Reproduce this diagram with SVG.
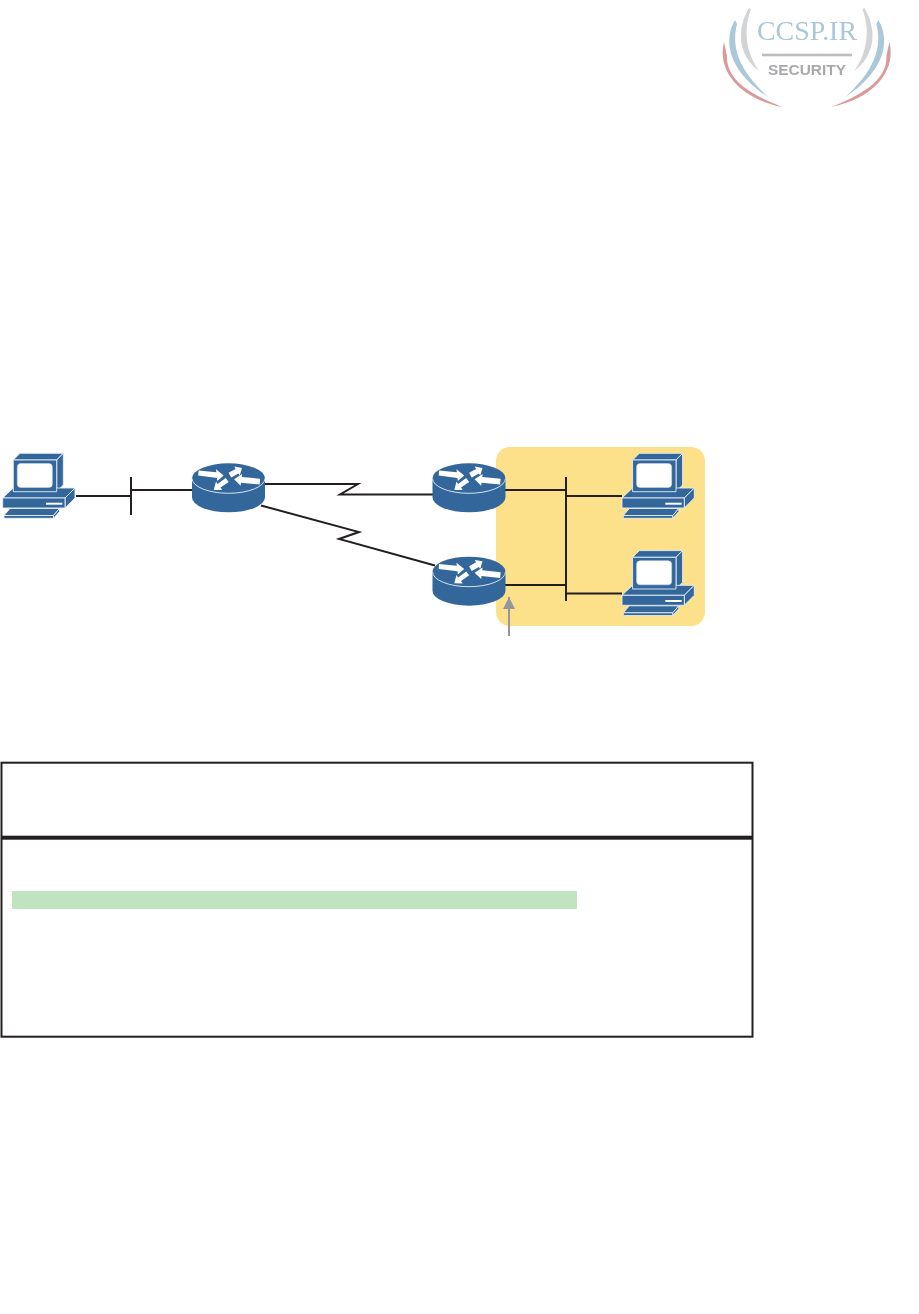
<svg xmlns="http://www.w3.org/2000/svg" xmlns:xlink="http://www.w3.org/1999/xlink" width="919" height="1314" viewBox="0 0 919 1314">
<style>
.dev{fill:#33679c;stroke:#e6eef5;stroke-width:.9;stroke-linejoin:round}
.wh{fill:#fff;stroke:none}
.scr{fill:#fff;stroke:#c9d9e8;stroke-width:.6}
.ln{fill:none;stroke:#231f20;stroke-width:2}
.hd{fill:none;stroke:#231f20;stroke-width:2}
</style>
<defs>
<filter id="soft" x="-5%" y="-5%" width="110%" height="110%"><feGaussianBlur stdDeviation=".5"/></filter>
<marker id="ah" markerUnits="userSpaceOnUse" markerWidth="13" markerHeight="13" refX="12" refY="6" orient="auto"><path d="M0,0 L12,6 L0,12 Z" fill="#949698"/></marker>
<g id="pc">
<path class="dev" d="M13.3,20 L20,13.3 L63.3,13.3 L56.7,20 Z"/>
<path class="dev" d="M56.7,20 L63.3,13.3 L63.3,45 L56.7,51.7 Z"/>
<path class="dev" d="M2.7,58 L13.3,48 L75,48 L65,58 Z"/>
<path class="dev" d="M65,58 L75,48 L75,58 L65,68 Z"/>
<rect class="dev" x="2.7" y="58" width="62.3" height="10"/>
<rect class="dev" x="13.3" y="20" width="43.4" height="31.7"/>
<rect class="scr" x="17.3" y="23.5" width="35" height="24" rx="3.5"/>
<rect class="wh" x="46" y="62.7" width="16.3" height="2"/>
<path class="dev" d="M4,75.5 L10,68.5 L59.5,68.5 L53.5,75.5 Z"/>
<path class="dev" d="M4,75.5 L53.5,75.5 L53.5,78.3 L4,78.3 Z"/>
<path class="dev" d="M53.5,78.3 L53.5,75.5 L59.5,68.5 L59.5,71.5 Z"/>
</g>
<g id="rt">
<path d="M0,15 V34 A36.5,15 0 0 0 73,34 V15 Z" fill="#33679c"/>
<ellipse cx="36.5" cy="15" rx="36.5" ry="15" fill="#33679c"/>
<path d="M0,15 A36.5,15 0 0 0 73,15" fill="none" stroke="#e6eef5" stroke-width=".9"/>
<polygon class="wh" points="6.6,7.2 24.3,9 24,6 31.7,12.3 25.3,17.8 25,14.6 6.2,12.3"/>
<polygon class="wh" points="36.6,9.5 43.6,5.6 42.3,3.2 50,4.6 47.7,12.2 46.5,10.2 39.2,14.2"/>
<polygon class="wh" points="33.7,14.8 25.6,20.8 24,18.3 21.8,26.6 30.2,26.8 28.5,24.3 36.7,18.6"/>
<polygon class="wh" points="68.2,15.5 49.8,13.6 50.1,10.8 42.1,16 48.7,22.4 49,19.4 67.6,21.2"/>
</g>
</defs>
<rect width="919" height="1314" fill="#fff"/>
<g id="logo" filter="url(#soft)">
<g id="logo-arcs-left">
<path d="M749,8 C736,30 738,55 759,71 C746,52 743,30 751,9 Z" fill="#d3d4d5"/>
<path d="M735,20 C722,42 730,72 768,97 C748,78 729,55 737,24 Z" fill="#a9c8d8"/>
<path d="M724,42 C717,70 738,98 782,107 C755,96 726,82 727,56 Z" fill="#d99a98"/>
</g>
<g id="logo-arcs-right" transform="translate(1613.4,0) scale(-1,1)">
<path d="M749,8 C736,30 738,55 759,71 C746,52 743,30 751,9 Z" fill="#d3d4d5"/>
<path d="M735,20 C722,42 730,72 768,97 C748,78 729,55 737,24 Z" fill="#a9c8d8"/>
<path d="M724,42 C717,70 738,98 782,107 C755,96 726,82 727,56 Z" fill="#d99a98"/>
</g>
<text x="807" y="40" text-anchor="middle" font-family="'Liberation Serif',serif" font-size="28" fill="#a9c8d8" textLength="100" lengthAdjust="spacingAndGlyphs">CCSP.IR</text>
<rect x="762" y="53.7" width="90" height="2.6" fill="#bcbdbf"/>
<text x="807" y="75" text-anchor="middle" font-family="'Liberation Sans',sans-serif" font-size="14" font-weight="bold" fill="#a7a9ab" textLength="78" lengthAdjust="spacingAndGlyphs">SECURITY</text>
</g>
<rect id="zone" x="496" y="447" width="209" height="179" rx="14" fill="#fce18a"/>
<g id="connectors">
<path class="ln" d="M76,496 H131"/>
<path class="hd" d="M131,477 V515"/>
<path class="ln" d="M131,490 H192"/>
<path class="ln" d="M265,484 H358 L340,494.5 H433"/>
<path class="ln" d="M261,505.5 L359,532 L339,539 L435,565.5"/>
<path class="ln" d="M505,490 H566"/>
<path class="ln" d="M505,585 H566"/>
<path class="hd" d="M566,477 V601"/>
<path class="ln" d="M566,496 H622"/>
<path class="ln" d="M566,593.5 H622"/>
<path d="M509,636 V597" fill="none" stroke="#949698" stroke-width="2" marker-end="url(#ah)"/>
</g>
<g id="pc1"><use href="#pc" xlink:href="#pc" transform="translate(0,440)"/></g>
<g id="pc2"><use href="#pc" xlink:href="#pc" transform="translate(619.3,440)"/></g>
<g id="pc3"><use href="#pc" xlink:href="#pc" transform="translate(619.3,537.3)"/></g>
<g id="r1"><use href="#rt" xlink:href="#rt" transform="translate(192,463.3)"/></g>
<g id="r2"><use href="#rt" xlink:href="#rt" transform="translate(432.5,463.3)"/></g>
<g id="r3"><use href="#rt" xlink:href="#rt" transform="translate(432.5,556.7)"/></g>
<g id="table">
<rect x="12" y="891" width="565" height="18" fill="#bfe4bf"/>
<rect x="1.5" y="762.7" width="751" height="274" fill="none" stroke="#231f20" stroke-width="2"/>
<rect x="1.5" y="835.7" width="751" height="4" fill="#231f20"/>
</g>
</svg>
